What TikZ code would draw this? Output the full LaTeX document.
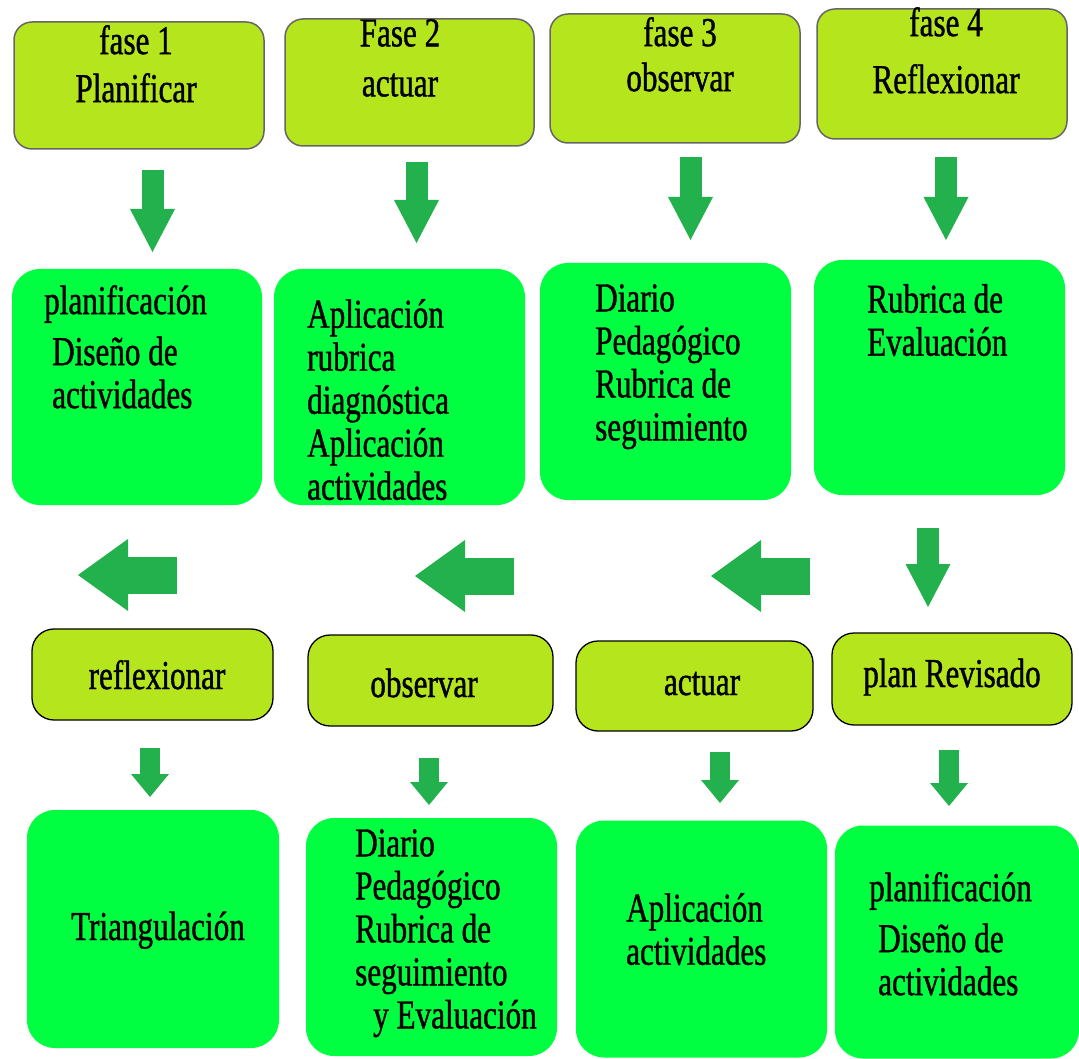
\documentclass[tikz,border=0pt]{standalone}
\usepackage{fontspec}
\setmainfont{Liberation Serif}[FakeStretch=0.76,FakeBold=1]
\usepackage{tikz}
\usetikzlibrary{arrows.meta}
\usepackage{xcolor}
\definecolor{phaseyellow}{HTML}{B5E61D}
\definecolor{boxgreen}{HTML}{00FF40}
\definecolor{arrowgreen}{HTML}{22B14C}

\begin{document}
\begin{tikzpicture}[x=1pt,y=-1pt,
  phasebox/.style={draw=black!60, line width=1.5pt, fill=phaseyellow, rounded corners=18pt},
  cyclebox/.style={draw=black, line width=1.3pt, fill=phaseyellow, rounded corners=22pt},
  greenbox/.style={fill=boxgreen, rounded corners=28pt},
  txt/.style={inner sep=0pt, align=left, font=\fontsize{41}{43}\selectfont},
  downarrow/.style={arrowgreen, line width=22pt, -{Triangle[length=43pt 0 0, width=45pt 0 0, line width=0pt 0 0]}},
  leftarrow/.style={arrowgreen, line width=37pt, -{Triangle[length=50pt 0 0, width=72pt 0 0, line width=0pt 0 0]}},
  smallarrow/.style={arrowgreen, line width=20pt, -{Triangle[length=23pt 0 0, width=38pt 0 0, line width=0pt 0 0]}}]

\useasboundingbox (0,0) rectangle (1079,1059);

% -------------------------
% Phases (top row)
% -------------------------
\node[phasebox, minimum width=250pt, minimum height=127pt] (fase1) at (139,85.5) {};
\node[phasebox, minimum width=249pt, minimum height=127pt] (fase2) at (409.5,82.5) {};
\node[phasebox, minimum width=250pt, minimum height=129pt] (fase3) at (675,78.5) {};
\node[phasebox, minimum width=250pt, minimum height=130pt] (fase4) at (942,74) {};

\node[txt, align=center, anchor=north] (fase1txt) at (136,25) {fase 1\\[5pt]Planificar};
\node[txt, align=center, anchor=north] (fase2txt) at (400,19) {Fase 2\\[7pt]actuar};
\node[txt, align=center, anchor=north] (fase3txt) at (680,17) {fase 3\\[2pt]observar};
\node[txt, align=center, anchor=north] (fase4txt) at (946,7) {fase 4\\[14pt]Reflexionar};

% -------------------------
% Tools of each phase
% -------------------------
\node[greenbox, minimum width=250pt, minimum height=236pt] (plan1) at (137,387) {};
\node[greenbox, minimum width=251pt, minimum height=236pt] (act1) at (399.5,387) {};
\node[greenbox, minimum width=251pt, minimum height=237pt] (obs1) at (665.5,381.5) {};
\node[greenbox, minimum width=251pt, minimum height=235pt] (ref1) at (939.5,377.5) {};

\node[txt, anchor=north west] (plan1txt) at (44,285) {planificación\\[8pt]\hspace*{8pt}Diseño de\\\hspace*{8pt}actividades};
\node[txt, anchor=north west] (act1txt) at (307,299) {Aplicación\\rubrica\\diagnóstica\\Aplicación\\actividades};
\node[txt, anchor=north west] (obs1txt) at (595,284) {Diario\\Pedagógico\\Rubrica de\\seguimiento};
\node[txt, anchor=north west] (ref1txt) at (867,284) {Rubrica de\\Evaluación};

% -------------------------
% Second cycle
% -------------------------
\node[cyclebox, minimum width=241pt, minimum height=91pt] (refl) at (152.5,674.5) {};
\node[cyclebox, minimum width=245pt, minimum height=91pt] (obsv) at (430.5,680.5) {};
\node[cyclebox, minimum width=237pt, minimum height=90pt] (actu) at (694.5,686) {};
\node[cyclebox, minimum width=240pt, minimum height=92pt] (plan) at (952,679) {};

\node[txt, anchor=base] (refltxt) at (157,689) {reflexionar};
\node[txt, anchor=base] (obsvtxt) at (424,697) {observar};
\node[txt, anchor=base] (actutxt) at (702,695) {actuar};
\node[txt, anchor=base] (plantxt) at (952,687) {plan Revisado};

\node[greenbox, minimum width=252pt, minimum height=238pt] (tri) at (153,929) {};
\node[greenbox, minimum width=251pt, minimum height=238pt] (diar) at (431.5,937) {};
\node[greenbox, minimum width=251pt, minimum height=237pt] (apl) at (701.5,939) {};
\node[greenbox, minimum width=244pt, minimum height=233pt] (pla2) at (957,942) {};

\node[txt, anchor=base] (tritxt) at (158,940) {Triangulación};
\node[txt, anchor=north west] (diartxt) at (355,829) {Diario\\Pedagógico\\Rubrica de\\seguimiento\\\hspace*{18pt}y Evaluación};
\node[txt, anchor=north west] (apltxt) at (626,893) {Aplicación\\actividades};
\node[txt, anchor=north west] (pla2txt) at (869,872) {planificación\\[8pt]\hspace*{9pt}Diseño de\\\hspace*{9pt}actividades};

% -------------------------
% Block arrows
% -------------------------
\coordinate (a1) at (152.5,170); \coordinate (b1) at (152.5,252);
\coordinate (a2) at (416.5,162); \coordinate (b2) at (416.5,243);
\coordinate (a3) at (690.5,157); \coordinate (b3) at (690.5,240);
\coordinate (a4) at (946,157);   \coordinate (b4) at (946,240);
\coordinate (a5) at (928,528);   \coordinate (b5) at (928,607);

\draw[downarrow] (a1) -- (b1);
\draw[downarrow] (a2) -- (b2);
\draw[downarrow] (a3) -- (b3);
\draw[downarrow] (a4) -- (b4);
\draw[downarrow] (a5) -- (b5);

\coordinate (l1) at (177,575);   \coordinate (m1) at (78,575);
\coordinate (l2) at (514,576);   \coordinate (m2) at (415,576);
\coordinate (l3) at (810,576);   \coordinate (m3) at (711,576);

\draw[leftarrow] (l1) -- (m1);
\draw[leftarrow] (l2) -- (m2);
\draw[leftarrow] (l3) -- (m3);

\coordinate (s1) at (150,748);   \coordinate (t1) at (150,797);
\coordinate (s2) at (429,758);   \coordinate (t2) at (429,805);
\coordinate (s3) at (720,752);   \coordinate (t3) at (720,803);
\coordinate (s4) at (949,750);   \coordinate (t4) at (949,806);

\draw[smallarrow] (s1) -- (t1);
\draw[smallarrow] (s2) -- (t2);
\draw[smallarrow] (s3) -- (t3);
\draw[smallarrow] (s4) -- (t4);

\end{tikzpicture}
\end{document}
